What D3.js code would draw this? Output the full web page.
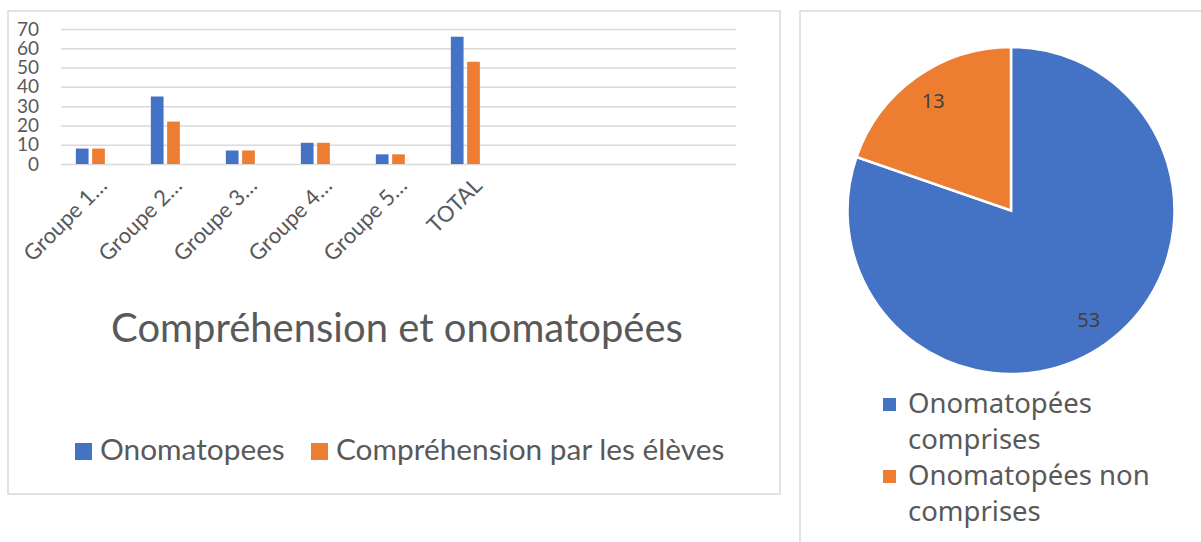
<!DOCTYPE html>
<html>
<head>
<meta charset="utf-8">
<script src="https://cdn.jsdelivr.net/npm/d3@7"></script>
<style>
  body { margin: 0; background: #fff; }
  svg { display: block; }
</style>
</head>
<body>
<svg width="1201" height="542"></svg>
<script>
// bar chart data
var categories = ["Groupe 1…", "Groupe 2…", "Groupe 3…", "Groupe 4…", "Groupe 5…", "TOTAL"];
var emptyCats = ["_a", "_b", "_c"]; // excel keeps 3 blank rows on the axis
var seriesNames = ["Onomatopees", "Compréhension par les élèves"];
var onomatopees = [8, 35, 7, 11, 5, 66];
var comprehension = [8, 22, 7, 11, 5, 53];
var yTicks = [0, 10, 20, 30, 40, 50, 60, 70];

// pie data
var pieLabels = ["Onomatopées comprises", "Onomatopées non comprises"];
var pieValues = [53, 13];

var colors = ["#4472C4", "#ED7D31"];
var textCol = "#595959";

var svg = d3.select("svg");

// ---- left chart ----
svg.append("rect")
    .attr("x", 8).attr("y", 11).attr("width", 772).attr("height", 483)
    .attr("fill", "#fff").attr("stroke", "#d9d9d9").attr("stroke-width", 1.5);

var x0 = d3.scaleBand()
    .domain(categories.concat(emptyCats))
    .range([61, 736]);

// 3 slots per group, the third one is an empty series
var x1 = d3.scaleBand()
    .domain([0, 1, 2])
    .range([14.85, x0.bandwidth() - 14.85])
    .paddingInner(0.22);

var y = d3.scaleLinear().domain([0, 70]).range([164, 29]);

var yAxis = svg.append("g")
    .attr("transform", "translate(61,0)")
    .call(d3.axisLeft(y).tickValues(yTicks).tickSizeInner(-675).tickSizeOuter(0).tickPadding(22));
yAxis.select(".domain").remove();
yAxis.selectAll("line").attr("stroke", "#d9d9d9").attr("stroke-width", 1.5);
yAxis.selectAll("text")
    .attr("fill", textCol)
    .style("font-family", "Lato")
    .style("font-size", "19px");

var rows = categories.map(function(c, i) {
    return { cat: c, vals: [onomatopees[i], comprehension[i]] };
});

var groups = svg.append("g").selectAll("g")
    .data(rows)
    .enter().append("g")
    .attr("transform", function(d) { return "translate(" + x0(d.cat) + ",0)"; });

groups.selectAll("rect")
    .data(function(d) { return d.vals; })
    .enter().append("rect")
    .attr("x", function(d, i) { return x1(i); })
    .attr("y", function(d) { return y(d); })
    .attr("width", x1.bandwidth())
    .attr("height", function(d) { return y(0) - y(d); })
    .attr("fill", function(d, i) { return colors[i]; });

var xAxis = svg.append("g")
    .attr("transform", "translate(0,164)")
    .call(d3.axisBottom(x0).tickSize(0).tickFormat(function(d) { return d.charAt(0) === "_" ? "" : d; }));
xAxis.select(".domain").remove();
xAxis.selectAll("text")
    .attr("fill", textCol)
    .style("font-family", "Lato")
    .style("font-size", "22px")
    .attr("text-anchor", "end")
    .attr("dy", 0)
    .attr("y", 0)
    .attr("transform", "translate(10,23) rotate(-45)");

svg.append("text")
    .attr("x", 397).attr("y", 342)
    .attr("text-anchor", "middle")
    .attr("fill", textCol)
    .style("font-family", "Lato")
    .style("font-size", "40px")
    .text("Compréhension et onomatopées");

var legX = [75, 311];
var leg = svg.append("g").selectAll("g")
    .data(seriesNames)
    .enter().append("g")
    .attr("transform", function(d, i) { return "translate(" + legX[i] + ",443)"; });
leg.append("rect")
    .attr("width", 17).attr("height", 17)
    .attr("fill", function(d, i) { return colors[i]; });
leg.append("text")
    .attr("x", 25).attr("y", 17)
    .attr("fill", textCol)
    .style("font-family", "Lato")
    .style("font-size", "29.8px")
    .text(function(d) { return d; });

// ---- right chart (pie) ----
svg.append("rect")
    .attr("x", 800).attr("y", 11).attr("width", 420).attr("height", 560)
    .attr("fill", "#fff").attr("stroke", "#d9d9d9").attr("stroke-width", 1.5);

var cx = 1011, cy = 210.5, r = 163.5;
var pie = d3.pie().sort(null).value(function(d) { return d; });
var arc = d3.arc().innerRadius(0).outerRadius(r);
var labelArc = d3.arc().innerRadius(r * 0.82).outerRadius(r * 0.82);

var pg = svg.append("g").attr("transform", "translate(" + cx + "," + cy + ")");
var slices = pie(pieValues);
pg.selectAll("path")
    .data(slices)
    .enter().append("path")
    .attr("d", arc)
    .attr("fill", function(d, i) { return colors[i]; })
    .attr("stroke", "#fff")
    .attr("stroke-width", 2.5);

pg.selectAll("text")
    .data(slices)
    .enter().append("text")
    .attr("transform", function(d) { return "translate(" + labelArc.centroid(d) + ")"; })
    .attr("text-anchor", "middle")
    .attr("dy", "0.35em")
    .attr("fill", "#404040")
    .style("font-family", "Noto Sans")
    .style("font-size", "20px")
    .text(function(d) { return d.data; });

// legend lines wrap like excel does
var pieLegLines = [["Onomatopées", "comprises"], ["Onomatopées non", "comprises"]];
var pl = svg.append("g").selectAll("g")
    .data(pieLabels)
    .enter().append("g")
    .attr("transform", function(d, i) { return "translate(883," + (413 + i * 72) + ")"; });
pl.append("rect")
    .attr("y", -15).attr("width", 13).attr("height", 13)
    .attr("fill", function(d, i) { return colors[i]; });
pl.append("text")
    .attr("fill", textCol)
    .style("font-family", "Noto Sans")
    .style("font-size", "27.5px")
    .selectAll("tspan")
    .data(function(d, i) { return pieLegLines[i]; })
    .enter().append("tspan")
    .attr("x", 25)
    .attr("y", function(d, j) { return j * 36; })
    .text(function(d) { return d; });
</script>
</body>
</html>
